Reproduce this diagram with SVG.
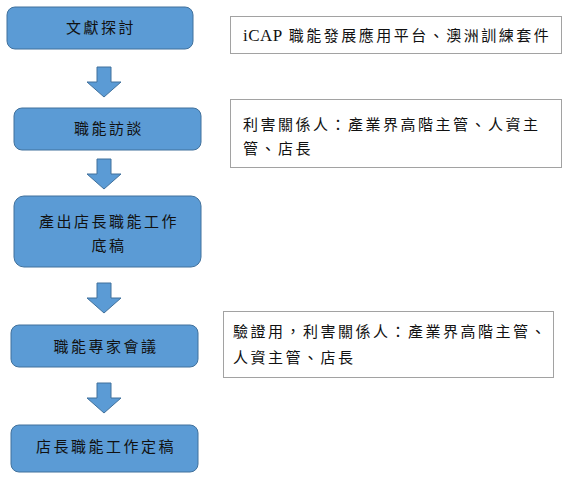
<svg xmlns="http://www.w3.org/2000/svg" width="565" height="478" viewBox="0 0 565 478">
<defs>
<style>
.step{fill:#5B9BD5;stroke:#41719C;stroke-width:1}
.arr{fill:#5B9BD5;stroke:#41719C;stroke-width:1}
.note{fill:#fff;stroke:#444;stroke-width:1;stroke-dasharray:1 1}
.t{font-family:"Noto Sans CJK TC","Noto Sans CJK SC",sans-serif;font-size:15px;fill:#111;letter-spacing:2.5px}
.c{text-anchor:middle}
.lat{font-family:"Liberation Serif",serif;letter-spacing:0.5px}
</style>
</defs>
<rect width="565" height="478" fill="#fff"/>
<g id="connectors">
<path class="arr" d="M97,67 H111 V82 H121 L104,97 L87,82 H97 Z"/>
<path class="arr" d="M97,159 H111 V174 H121 L104,189 L87,174 H97 Z"/>
<path class="arr" d="M97,283 H111 V298 H121 L104,313 L87,298 H97 Z"/>
<path class="arr" d="M97,383 H111 V398 H121 L104,413 L87,398 H97 Z"/>
</g>
<g id="n1">
<rect class="step" x="7" y="7" width="186" height="42" rx="8"/>
<text class="t c" x="101" y="33">文獻探討</text>
</g>
<g id="n2">
<rect class="step" x="14" y="108" width="187" height="42" rx="8"/>
<text class="t c" x="109" y="134">職能訪談</text>
</g>
<g id="n3">
<rect class="step" x="14" y="196" width="187" height="71" rx="10"/>
<text class="t c" x="109" y="227">產出店長職能工作</text>
<text class="t c" x="109" y="251">底稿</text>
</g>
<g id="n4">
<rect class="step" x="11" y="325" width="187" height="42" rx="8"/>
<text class="t c" x="106" y="352">職能專家會議</text>
</g>
<g id="n5">
<rect class="step" x="11" y="425" width="187" height="47" rx="8"/>
<text class="t c" x="106" y="452">店長職能工作定稿</text>
</g>
<g id="note1">
<rect class="note" x="230.5" y="16.5" width="331" height="37"/>
<text class="t" x="243" y="41"><tspan class="lat" font-size="17">iCAP</tspan> 職能發展應用平台、澳洲訓練套件</text>
</g>
<g id="note2">
<rect class="note" x="230.5" y="99.5" width="331" height="68"/>
<text class="t" x="243" y="130">利害關係人：產業界高階主管、人資主</text>
<text class="t" x="243" y="154">管、店長</text>
</g>
<g id="note3">
<rect class="note" x="223.5" y="311.5" width="330" height="66"/>
<text class="t" x="233" y="337">驗證用，利害關係人：產業界高階主管、</text>
<text class="t" x="233" y="363">人資主管、店長</text>
</g>
</svg>
